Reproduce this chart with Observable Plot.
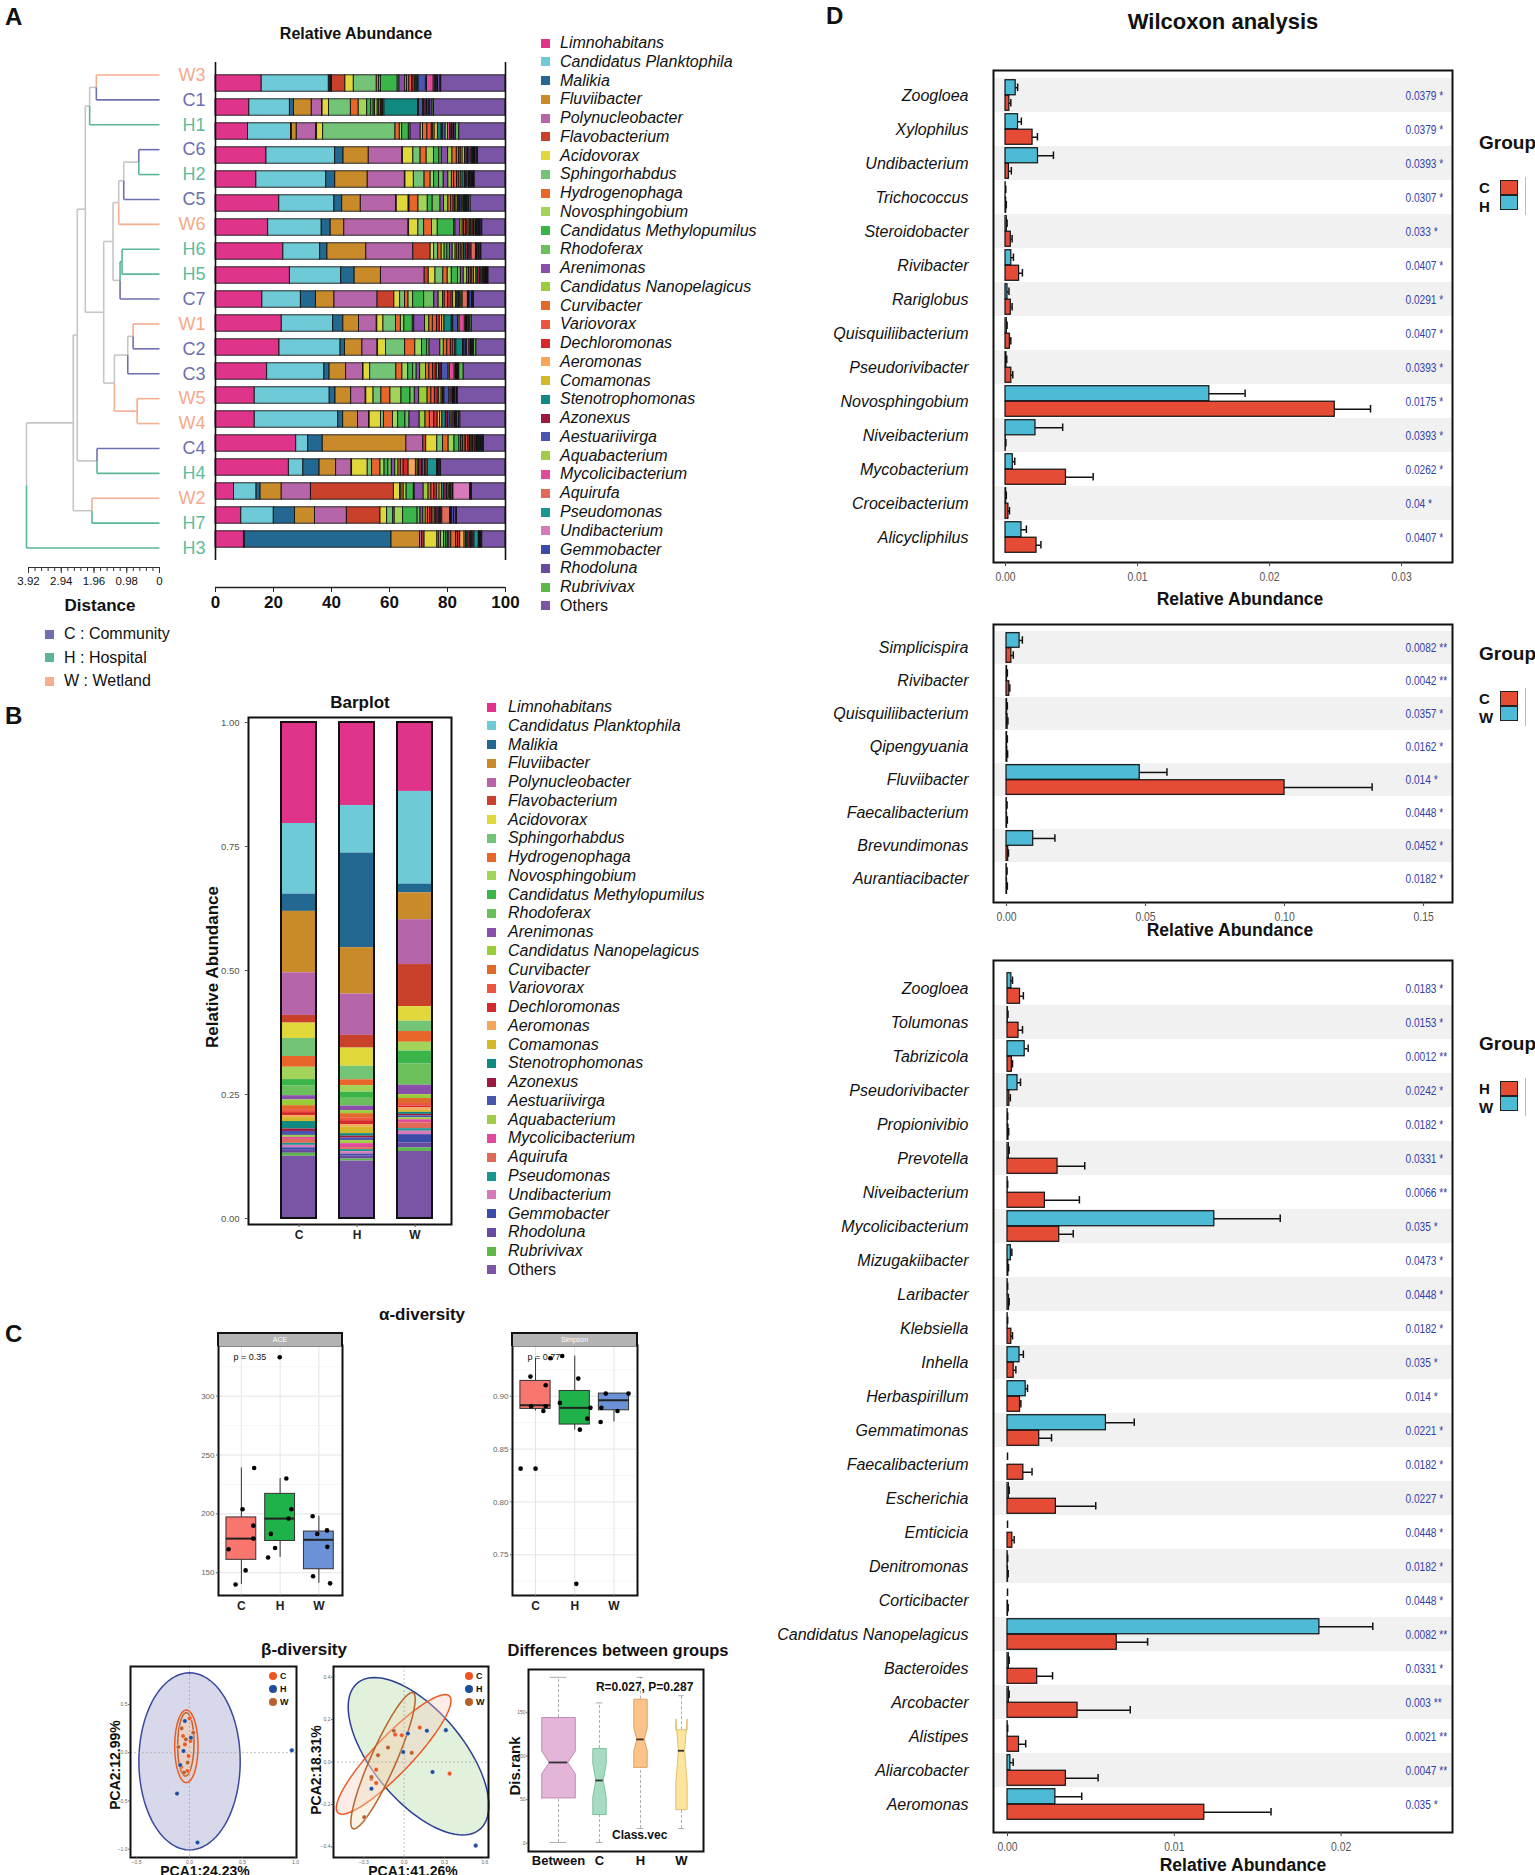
<!DOCTYPE html>
<html><head><meta charset="utf-8">
<script src="https://cdn.jsdelivr.net/npm/d3@7"></script>
<script src="https://cdn.jsdelivr.net/npm/@observablehq/plot@0.6"></script>
<style>
html,body{margin:0;padding:0;background:#fff;}
#page{position:relative;width:1535px;height:1875px;overflow:hidden;background:#fff;}
</style></head>
<body><div id="page"></div>
<script>
// ---------------- DATA ----------------
const samples = ["W3","C1","H1","C6","H2","C5","W6","H6","H5","C7","W1","C2","C3","W5","W4","C4","H4","W2","H7","H3"];
const taxa = ["Limnohabitans","Candidatus Planktophila","Malikia","Fluviibacter","Polynucleobacter","Flavobacterium","Acidovorax","Sphingorhabdus","Hydrogenophaga","Novosphingobium","Candidatus Methylopumilus","Rhodoferax","Arenimonas","Candidatus Nanopelagicus","Curvibacter","Variovorax","Dechloromonas","Aeromonas","Comamonas","Stenotrophomonas","Azonexus","Aestuariivirga","Aquabacterium","Mycolicibacterium","Aquirufa","Pseudomonas","Undibacterium","Gemmobacter","Rhodoluna","Rubrivivax","Others"];
const taxaColors = ["#e0338a","#6ecad6","#236891","#c98b2a","#b565a8","#c9412a","#e0d83a","#73c476","#e8662a","#a3d45a","#3bb54a","#6cc05c","#8a4faa","#9acd3a","#e06a2a","#ee5540","#d42a2a","#f5a65b","#d4b82a","#108a80","#9a1a40","#4a55b0","#a0cc48","#e04a9a","#e06a5a","#1a9590","#d87aba","#3a4ca8","#6a4aa0","#5db84a","#7b55a5"];

const ab_W3 = [15.9,23.1,0.5,0.3,0.3,4.6,2.9,7.9,0.8,0.6,5.8,0.6,2.0,0.6,0.8,1.0,0.5,0.5,0.4,0.4,0.4,2.5,0.4,2.3,0.5,0.3,0.4,0.3,0.8,0.3,22.1];
const ab_C1 = [11.6,13.9,1.4,6.1,3.5,0.2,2.2,7.5,2.7,2.9,1.4,0.8,0.5,0.9,0.5,0.6,0.4,0.3,0.5,11.5,0.3,1.4,0.4,0.5,0.4,0.3,0.4,0.5,0.8,0.5,24.5];
const ab_H1 = [11.2,14.8,0.3,1.7,6.7,0.3,2.1,24.9,1.5,0.8,2.3,0.6,3.5,0.8,1.5,1.5,0.5,0.5,1.2,1.2,0.4,1.0,0.8,0.8,0.4,0.3,0.4,0.3,0.5,1.2,15.9];
const ab_C6 = [17.6,23.7,2.9,8.7,11.6,0.2,3.6,2.5,2.1,2.5,1.9,0.8,2.2,1.5,1.5,0.8,0.6,0.6,0.8,0.6,0.5,0.5,0.4,0.4,0.4,0.3,0.3,0.3,0.5,0.3,9.5];
const ab_H2 = [14.1,24.1,3.1,11.2,12.8,0.2,2.9,3.7,2.1,1.2,1.7,1.6,1.6,1.2,0.8,1.0,0.8,0.5,0.6,0.8,0.5,0.4,0.4,0.3,0.3,0.3,0.3,0.3,0.3,0.3,10.6];
const ab_C5 = [22,19,2.7,6.4,12.2,0.2,4.1,0.3,3.1,3.2,1.7,2.7,1.2,1.5,1.0,0.8,0.5,0.5,0.5,0.5,0.4,0.6,0.4,0.3,0.3,0.3,0.3,0.5,0.3,0.5,12];
const ab_W6 = [18.2,18.5,3.1,4.7,22.2,0.2,3.2,2,2.7,2,5.6,0.5,1.7,0.8,0.5,0.6,0.6,0.4,0.5,0.4,0.8,0.3,0.4,0.3,0.3,0.3,0.3,0.3,0.5,0.3,8];
const ab_H6 = [23.4,12.7,2.5,13.4,16.2,6,1.2,1.4,1.2,1,1,0.8,1,1,0.6,0.6,0.8,0.4,0.5,0.6,0.8,0.4,0.4,0.4,1.5,0.3,0.3,0.5,0.5,0.3,8.3];
const ab_H5 = [25.5,17.6,4.6,9,15,1.4,2.3,2.7,1.5,1.4,2.1,1,1,1.2,0.6,0.6,0.6,0.5,0.8,0.5,0.8,0.4,0.4,0.3,0.3,0.3,0.3,0.3,0.3,0.3,5.8];
const ab_C7 = [16.2,13.3,5.2,6.4,14.9,5.8,2,1.7,1.2,1.6,3.8,3.5,1.5,1.5,0.6,1.2,1.2,0.5,1.0,0.5,0.5,0.5,0.4,0.4,1.8,0.3,0.3,0.8,0.4,0.3,10.9];
const ab_W1 = [22.8,17.7,3.5,5.4,6.1,0.2,2.1,4.3,1.7,1.2,2.9,0.5,3.7,1.5,1.2,1.4,1.0,0.8,0.8,2.5,0.5,1.7,0.5,1.8,0.4,0.3,0.3,0.5,0.4,0.5,11.6];
const ab_C2 = [22,21,1.5,6,5.2,0.2,2.7,6.6,3.5,2.3,1.8,0.8,3.7,1.2,1.2,1.2,0.9,0.5,0.5,2.3,0.5,0.5,0.4,0.8,0.4,0.3,0.3,0.3,0.3,0.8,10];
const ab_C3 = [17.8,19.7,1.8,5.7,5.8,0.2,2.3,9,2.1,2,1.7,1.2,1.2,2,1.2,1.2,1.0,0.5,0.6,0.5,0.5,2.3,0.4,1.7,0.4,0.3,0.3,0.3,0.3,1.5,14.4];
const ab_W5 = [13.5,25.8,2,5.4,5,0.2,2.5,2.7,3.1,3.8,3.1,1.5,1.5,2.9,1.3,1.2,1.0,0.5,0.8,0.5,0.5,1.7,0.4,0.4,0.4,0.3,0.3,0.3,0.5,0.3,16.4];
const ab_W4 = [13.5,28.7,1.7,5.1,3.8,0.2,3.9,1.0,3.1,1.8,2.5,1.4,3.5,2,1.5,1.5,1.2,0.8,0.8,1.2,0.8,0.8,0.4,0.6,0.4,0.3,0.3,0.3,0.6,0.5,15.5];
const ab_C4 = [27.7,4.1,5,28.7,5.8,1,3.8,2,1.9,2,1.7,0.6,0.6,0.6,0.5,0.8,0.5,0.3,0.5,0.3,0.8,0.4,0.3,0.3,0.3,0.3,0.3,0.3,0.4,0.3,7.4];
const ab_H4 = [25.3,5,5.6,5.7,5.3,0.2,5.4,1.5,2.9,1.4,1.3,1.2,1.2,1.1,0.8,1.0,1.7,2.5,0.6,0.5,1.0,0.5,0.5,0.5,0.5,3.2,0.3,0.3,0.5,0.3,22.2];
const ab_W2 = [6.4,7.8,1.4,7.3,10.1,28.7,2.1,0.5,0.8,1.0,2.5,0.3,3.1,1.7,1.0,1.0,1.0,0.8,0.8,0.8,1.0,0.6,0.4,0.4,0.5,0.3,5.8,0.2,0.2,0.2,11.6];
const ab_H7 = [8.9,11.2,7.3,6.9,11,11.6,2.3,2.1,0.5,2.9,5,1.0,1.0,0.8,0.8,0.8,0.6,0.5,0.6,0.4,0.8,0.4,0.4,0.4,2.7,0.3,0.3,0.8,0.7,0.3,16.7];
const ab_H3 = [9.8,0.3,50.6,9.8,0.8,0.8,4.4,0.5,0.8,1.0,0.8,0.5,0.6,0.6,1.7,0.6,0.8,1.5,0.5,0.5,0.8,0.4,0.4,0.4,0.4,1.5,0.3,0.3,0.3,0.3,8];

// hierarchical clustering: [height, left, right]
const tree = [3.98,
  [2.58,
    [2.46,
      [2.22,
        [2.09, [1.89, "W3", "C1"], "H1"],
        [1.67,
          [1.39,
            [1.22, [1.07, [0.62, "C6", "H2"], "C5"], "W6"],
            [1.18, [1.12, "H6", "H5"], "C7"]],
          [1.35,
            [0.95, [0.79, "W1", "C2"], "C3"],
            [0.67, "W5", "W4"]]]],
      [1.87, "C4", "H4"]],
    [2.02, "W2", "H7"]],
  "H3"];
const distMajor = [3.92, 2.94, 1.96, 0.98, 0];
const distMajorLabels = ["3.92", "2.94", "1.96", "0.98", "0"];
const distMinor = [3.92,3.724,3.528,3.332,3.136,2.94,2.744,2.548,2.352,2.156,1.96,1.764,1.568,1.372,1.176,0.98,0.784,0.588,0.392,0.196,0];

// Barplot (B)
const groupsB = ["C","H","W"];
const rel_C = [0.2036,0.1424,0.0348,0.1238,0.0859,0.0155,0.031,0.0364,0.0217,0.0248,0.0132,0.0193,0.0085,0.0116,0.008,0.006,0.006,0.004,0.008,0.015,0.005,0.008,0.004,0.004,0.008,0.004,0.005,0.005,0.006,0.006,0.1255];
const rel_H = [0.1664,0.0952,0.1896,0.0929,0.0828,0.0255,0.0364,0.0271,0.0116,0.0132,0.0124,0.0155,0.0093,0.006,0.008,0.006,0.008,0.005,0.013,0.005,0.004,0.005,0.006,0.008,0.004,0.004,0.005,0.004,0.006,0.004,0.115];
const rel_W = [0.1393,0.1873,0.0178,0.0542,0.0906,0.0851,0.0294,0.0209,0.0217,0.0178,0.0263,0.0426,0.0193,0.0077,0.01,0.005,0.004,0.005,0.004,0.004,0.003,0.004,0.004,0.006,0.012,0.005,0.007,0.017,0.01,0.007,0.1355];

// Alpha diversity (C)
const alphaGroups = ["C","H","W"];
const alphaFill = ["#f8766d","#1fb14a","#6b92d6"];
const ace_lo = [140,163,141], ace_q1 = [161,177,153], ace_med = [179,196,178], ace_q3 = [197,217,185], ace_hi = [239,230,198];
const ace_ptG = ["C","C","C","C","C","C","C","H","H","H","H","H","H","H","W","W","W","W","W","W"];
const ace_ptJ = [-0.33,-0.15,0.03,0.11,0.31,0.31,0.33,-0.31,-0.24,-0.13,-0.01,0.16,0.22,0.29,-0.16,-0.15,-0.04,0.21,0.22,0.29];
const ace_ptV = [170,140,204,152,190,179,239,163,183,171,333,230,196,204,198,147,183,186,172,141];
const sim_lo = [0.886,0.868,0.8757], sim_q1 = [0.888,0.8732,0.8867], sim_med = [0.8915,0.889,0.8962], sim_q3 = [0.9145,0.905,0.9025], sim_hi = [0.936,0.938,0.9025];
const sim_ptG = ["C","C","C","C","C","C","C","C","H","H","H","H","H","H","H","W","W","W","W","W"];
const sim_ptJ = [-0.38,-0.13,-0.11,0.0,0.2,0.26,0.26,0.38,-0.38,-0.32,0.09,0.13,0.04,0.32,0.4,-0.34,-0.32,-0.21,0.09,0.37];
const sim_ptV = [0.8315,0.9186,0.8905,0.8315,0.8861,0.9104,0.8905,0.936,0.8937,0.938,0.9167,0.8684,0.7225,0.8788,0.889,0.8757,0.889,0.9025,0.8861,0.9025];

// Beta diversity PCA
const pcaColors = {C:"#ee5522", H:"#1f4f9c", W:"#b8612a"};
const pcaL_g = ["C","C","C","C","C","C","C","H","H","H","H","H","H","H","W","W","W","W","W","W"];
const pcaL_x = [0.0,-0.061,-0.044,-0.009,-0.079,-0.022,0.009,-0.044,0.013,-0.057,-0.088,-0.118,0.075,0.965,-0.075,-0.105,-0.035,0.035,-0.053,-0.018];
const pcaL_y = [0.355,0.172,0.086,-0.034,-0.148,-0.19,0.121,0.328,0.155,0.017,-0.128,-0.424,-0.931,0.024,0.252,0.059,0.138,0.207,-0.207,-0.103];
const pcaL_ell = [
  {cx:0.0, cy:-0.09, ux:0, uy:0.917, vx:0.478, vy:0, stroke:"#3b4aa0", fill:"#c9cce3", fo:0.75},
  {cx:-0.03, cy:0.066, ux:0, uy:0.376, vx:0.11, vy:0, stroke:"#ee5a24", fill:"#f6c3ad", fo:0.35},
  {cx:-0.035, cy:0.086, ux:0.004, uy:0.328, vx:0.077, vy:0, stroke:"#c0662a", fill:"#f0d0b0", fo:0.3}
];
const pcaR_g = pcaL_g;
const pcaR_x = [0.116,-0.018,-0.208,-0.243,-0.208,0.338,-0.067,0.169,0.31,-0.007,0.028,-0.243,0.211,0.532,-0.077,-0.12,0.056,-0.194,-0.243,-0.296];
const pcaR_y = [0.162,0.126,-0.036,-0.079,-0.099,-0.055,0.129,0.147,0.15,0.047,0.134,-0.126,-0.047,-0.394,0.147,0.068,0.043,0.032,-0.071,-0.26];
const pcaR_ell = [
  {cx:0.107, cy:0.027, ux:-0.237, uy:0.363, vx:0.466, vy:-0.076, stroke:"#2e3f93", fill:"#dcefd6", fo:0.85},
  {cx:-0.078, cy:0.036, ux:0.405, uy:0.279, vx:0.133, vy:-0.0387, stroke:"#ee5a24", fill:"#f7c9bb", fo:0.35},
  {cx:-0.157, cy:0.006, ux:0.22, uy:0.321, vx:0.094, vy:-0.013, stroke:"#b8652c", fill:"#efdcb8", fo:0.35}
];

// ANOSIM differences
const diffGroups = ["Between","C","H","W"];
const diffN = [133,21,21,15];
const diffLo = [1,1,17,17], diffQ1 = [52,33,87,38.6], diffMed = [92.6,72,119,106], diffQ3 = [144,108.6,165,130], diffHi = [190,160.7,190,169];
const diffNotch = [13,19,13,36.5];
const diffFill = ["#e2b5d9","#a8dcc1","#fac38a","#fde59e"];
const diffStroke = ["#c08ab8","#7cc29e","#e0a060","#e0c070"];

// Wilcoxon (D)
const w1_species = ["Zoogloea","Xylophilus","Undibacterium","Trichococcus","Steroidobacter","Rivibacter","Rariglobus","Quisquiliibacterium","Pseudorivibacter","Novosphingobium","Niveibacterium","Mycobacterium","Croceibacterium","Alicycliphilus"];
const w1_red = [0.00029,0.00205,0.00026,0.00005,0.0004,0.00103,0.0004,0.00033,0.00044,0.02494,0.00002,0.00458,0.00022,0.00235];
const w1_redSe = [0.00011,0.00037,0.00018,0.00001,0.0001,0.00025,0.0001,0.00007,0.00011,0.00271,0.00001,0.00206,0.00008,0.00033];
const w1_blue = [0.00077,0.00095,0.00246,0.00001,0.0001,0.00044,0.00015,0.0001,0.00007,0.01544,0.00227,0.00055,0.00005,0.00121];
const w1_blueSe = [0.00015,0.00025,0.00117,0.00001,0.00002,0.00016,0.00011,0.00002,0.00002,0.00271,0.00206,0.00015,0.00001,0.00037];
const w1_p = ["0.0379 *","0.0379 *","0.0393 *","0.0307 *","0.033 *","0.0407 *","0.0291 *","0.0407 *","0.0393 *","0.0175 *","0.0393 *","0.0262 *","0.04 *","0.0407 *"];
const w2_species = ["Simplicispira","Rivibacter","Quisquiliibacterium","Qipengyuania","Fluviibacter","Faecalibacterium","Brevundimonas","Aurantiacibacter"];
const w2_red = [0.00174,0.001,0.0004,0.0003,0.1,0.0002,0.0006,0.0002];
const w2_redSe = [0.0007,0.0002,0.0001,0.0001,0.0315,0.0001,0.0001,0.0001];
const w2_blue = [0.0047,0.0002,0.0002,0.0002,0.0479,0.0001,0.0096,0.0001];
const w2_blueSe = [0.001,0.0001,0.0001,0.0001,0.0098,0.0001,0.0078,0.0001];
const w2_p = ["0.0082 **","0.0042 **","0.0357 *","0.0162 *","0.014 *","0.0448 *","0.0452 *","0.0182 *"];
const w3_species = ["Zoogloea","Tolumonas","Tabrizicola","Pseudorivibacter","Propionivibio","Prevotella","Niveibacterium","Mycolicibacterium","Mizugakiibacter","Laribacter","Klebsiella","Inhella","Herbaspirillum","Gemmatimonas","Faecalibacterium","Escherichia","Emticicia","Denitromonas","Corticibacter","Candidatus Nanopelagicus","Bacteroides","Arcobacter","Alistipes","Aliarcobacter","Aeromonas"];
const w3_red = [0.00075,0.00066,0.00026,0.00011,0.00006,0.003,0.00224,0.0031,0.00005,0.00009,0.00023,0.00037,0.00075,0.0019,0.00095,0.0029,0.00029,0.00003,0.00003,0.00655,0.00178,0.0042,0.00069,0.0035,0.0118];
const w3_redSe = [0.0002,0.00024,0.00004,0.00006,0.00001,0.00163,0.00207,0.00084,0.00001,0.00001,0.00007,0.00013,0.00005,0.00074,0.00052,0.00239,0.00011,0.00001,0.00001,0.00185,0.00092,0.00316,0.0004,0.00193,0.004];
const w3_blue = [0.00023,0.00002,0.00103,0.0006,0.00001,0.00008,0.00001,0.0124,0.0002,0.00001,0.00001,0.00072,0.00109,0.0059,0,0.00008,0,0.00001,0,0.0187,0.00008,0.00008,0.00001,0.00017,0.00287];
const w3_blueSe = [0.00007,0.00001,0.00021,0.00018,0,0.00002,0,0.00395,0.00006,0,0,0.00023,0.00011,0.0017,0,0.00002,0,0,0,0.0032,0.00002,0.00002,0,0.00017,0.00158];
const w3_p = ["0.0183 *","0.0153 *","0.0012 **","0.0242 *","0.0182 *","0.0331 *","0.0066 **","0.035 *","0.0473 *","0.0448 *","0.0182 *","0.035 *","0.014 *","0.0221 *","0.0182 *","0.0227 *","0.0448 *","0.0182 *","0.0448 *","0.0082 **","0.0331 *","0.003 **","0.0021 **","0.0047 **","0.035 *"];

// ---------------- HELPERS ----------------
const FONT = "'Liberation Sans', Arial, Helvetica, sans-serif";
const baseStyle = {fontFamily: FONT, background: "transparent", overflow: "visible"};
const page = document.getElementById("page");
function put(node, x, y) { node.style.position = "absolute"; node.style.left = x + "px"; node.style.top = y + "px"; page.appendChild(node); return node; }
function T(s, x, y, css, anchor) {
  const d = document.createElement("div");
  d.textContent = s;
  const tr = anchor === "c" ? "translate(-50%,-50%)" : anchor === "r" ? "translate(-100%,-50%)" : "translate(0,-50%)";
  d.style.cssText = `position:absolute;left:${x}px;top:${y}px;white-space:nowrap;line-height:1;transform:${tr};font-family:${FONT};color:#111;` + (css || "");
  page.appendChild(d); return d;
}
function R(s, x, y, css) { const d = T(s, x, y, css, "c"); d.style.transform = "translate(-50%,-50%) rotate(-90deg)"; return d; }
function box(x, y, w, h, css) { const d = document.createElement("div"); d.style.cssText = `position:absolute;left:${x}px;top:${y}px;width:${w}px;height:${h}px;box-sizing:border-box;` + css; page.appendChild(d); return d; }
// narrow the glyphs of texts drawn with a given fill (condensed look of the original)
function condense(svg, fill, factor) {
  svg.querySelectorAll(`g[fill="${fill}"] text`).forEach(t => {
    const L = t.getComputedTextLength();
    if (L > 0) { t.setAttribute("textLength", (L * factor).toFixed(2)); t.setAttribute("lengthAdjust", "spacingAndGlyphs"); }
  });
}

const grpBranch = {C: "#6e70b0", H: "#5cb596", W: "#f7ad90"};
const grpLabel = {C: "#6b6fb0", H: "#5fbb9b", W: "#f6a98a"};

// ---------------- PANEL A ----------------
T("A", 5, 17, "font-size:24px;font-weight:bold");
T("Relative Abundance", 356, 34, "font-size:16px;font-weight:bold", "c");

function layoutTree(node) {
  if (typeof node === "string") return {h: 0, y: samples.indexOf(node), groups: new Set([node[0]])};
  const [h, a, b] = node;
  const A = layoutTree(a), B = layoutTree(b);
  return {h, y: (A.y + B.y) / 2, kids: [A, B], groups: new Set([...A.groups, ...B.groups])};
}
const segs = [];
(function walk(n) {
  if (!n.kids) return;
  for (const c of n.kids) {
    const col = c.groups.size === 1 ? grpBranch[[...c.groups][0]] : "#c6c6c6";
    segs.push({x1: n.h, y1: n.y, x2: n.h, y2: c.y, col});
    segs.push({x1: n.h, y1: c.y, x2: c.h, y2: c.y, col});
    walk(c);
  }
})(layoutTree(tree));
segs.sort((a, b) => (a.col === "#c6c6c6" ? 0 : 1) - (b.col === "#c6c6c6" ? 0 : 1));

put(Plot.plot({
  width: 215, height: 565, margin: 0,
  x: {domain: [3.92, 0], range: [28, 159], axis: null, label: null},
  y: {domain: [-0.5, 19.5], range: [62, 560], axis: null, label: null},
  color: {type: "identity"},
  style: baseStyle,
  marks: [
    Plot.link(segs, {x1: "x1", y1: "y1", x2: "x2", y2: "y2", stroke: "col", strokeWidth: 1.6}),
    Plot.text(samples, {x: 0, y: (d, i) => i, text: d => d, textAnchor: "end", dx: 46, fill: d => grpLabel[d[0]], fontSize: 18})
  ]
}), 0, 0);

put(Plot.plot({
  width: 215, height: 41, marginLeft: 28, marginRight: 56, marginTop: 10, marginBottom: 30,
  x: {domain: [3.92, 0], label: null}, y: {domain: [0, 1], axis: null, label: null},
  style: baseStyle,
  marks: [
    Plot.ruleY([0], {stroke: "#333", strokeWidth: 1.2}),
    Plot.axisX({ticks: distMinor, tickSize: 4, tickFormat: () => "", stroke: "#333", label: null}),
    Plot.axisX({ticks: distMajor, tickSize: 6, tickPadding: 3, tickFormat: (d, i) => distMajorLabels[i], fontSize: 11.5, stroke: "#333", fill: "#111", label: null})
  ]
}), 0, 556);
T("Distance", 100, 605, "font-size:17px;font-weight:bold", "c");

const abundBySample = {W3:ab_W3,C1:ab_C1,H1:ab_H1,C6:ab_C6,H2:ab_H2,C5:ab_C5,W6:ab_W6,H6:ab_H6,H5:ab_H5,C7:ab_C7,W1:ab_W1,C2:ab_C2,C3:ab_C3,W5:ab_W5,W4:ab_W4,C4:ab_C4,H4:ab_H4,W2:ab_W2,H7:ab_H7,H3:ab_H3};
const tableA = samples.flatMap(s => abundBySample[s].map((v, j) => ({sample: s, taxon: taxa[j], value: v})));
put(Plot.plot({
  width: 294, height: 502, margin: 2,
  x: {domain: [0, 1], axis: null, label: null},
  y: {domain: samples, padding: 0, axis: null, label: null},
  color: {domain: taxa, range: taxaColors},
  style: baseStyle,
  marks: [
    Plot.barX(tableA, Plot.stackX({y: "sample", x: "value", fill: "taxon", order: taxa, offset: "normalize", stroke: "#111", strokeWidth: 0.9, insetTop: 3.8, insetBottom: 3.8})),
    Plot.ruleX([0, 1], {stroke: "#111", strokeWidth: 1.6})
  ]
}), 213, 60);
put(Plot.plot({
  width: 310, height: 41, marginLeft: 10, marginRight: 10, marginTop: 10, marginBottom: 30,
  x: {domain: [0, 1], label: null}, y: {domain: [0, 1], axis: null, label: null},
  style: baseStyle,
  marks: [
    Plot.ruleY([0], {stroke: "#222", strokeWidth: 1.5}),
    Plot.axisX({ticks: [0, 0.2, 0.4, 0.6, 0.8, 1], tickFormat: d => String(Math.round(d * 100)), tickSize: 5, tickPadding: 3, fontSize: 17, fontWeight: "bold", stroke: "#222", fill: "#111", label: null})
  ]
}), 205, 576);

taxa.forEach((t, i) => {
  const y = 43 + i * 18.76;
  box(541, y - 4.5, 9, 9, `background:${taxaColors[i]}`);
  T(t, 560, y, "font-size:16px;" + (t === "Others" ? "" : "font-style:italic"));
});
[["C", "C : Community"], ["H", "H : Hospital"], ["W", "W : Wetland"]].forEach(([g, lab], i) => {
  const y = 634 + i * 23.5;
  box(45, y - 4.5, 9, 9, `background:${grpBranch[g]}`);
  T(lab, 64, y, "font-size:16px");
});

// ---------------- PANEL B ----------------
T("B", 5, 716, "font-size:24px;font-weight:bold");
T("Barplot", 360, 702, "font-size:17px;font-weight:bold", "c");
const relB = {C: rel_C, H: rel_H, W: rel_W};
const tableB = groupsB.flatMap(g => relB[g].map((v, j) => ({group: g, taxon: taxa[j], value: v})));
const taxaRev = taxa.slice().reverse();
put(Plot.plot({
  width: 270, height: 567, marginLeft: 58, marginRight: 9, marginTop: 20, marginBottom: 40,
  x: {domain: groupsB, range: [66.5, 266.25], padding: 0.4, label: null},
  y: {domain: [-0.0121, 1.0101], label: null},
  color: {domain: taxa, range: taxaColors},
  style: baseStyle,
  marks: [
    Plot.barY(tableB, Plot.stackY({x: "group", y: "value", fill: "taxon", order: taxaRev, offset: "normalize"})),
    Plot.barY(groupsB, {x: d => d, y1: 0, y2: 1, fill: "none", stroke: "#111", strokeWidth: 2}),
    Plot.frame({stroke: "#111", strokeWidth: 2}),
    Plot.axisY({ticks: [0, 0.25, 0.5, 0.75, 1], tickFormat: d3.format(".2f"), tickSize: 3, fontSize: 9.5, fill: "#555", stroke: "#555", label: null}),
    Plot.axisX({tickSize: 3, tickPadding: 3, fontSize: 12, fontWeight: "bold", fill: "#222", stroke: "#555", label: null})
  ]
}), 190, 697);
R("Relative Abundance", 212, 967, "font-size:17px;font-weight:bold");
taxa.forEach((t, i) => {
  const y = 707 + i * 18.76;
  box(487, y - 4.5, 9, 9, `background:${taxaColors[i]}`);
  T(t, 508, y, "font-size:16px;" + (t === "Others" ? "" : "font-style:italic"));
});

// ---------------- PANEL C ----------------
T("C", 5, 1334, "font-size:24px;font-weight:bold");
T("α-diversity", 422, 1314, "font-size:17px;font-weight:bold", "c");

function alphaPlot(cfg) {
  const stats = alphaGroups.map((g, i) => ({i, lo: cfg.lo[i], q1: cfg.q1[i], med: cfg.med[i], q3: cfg.q3[i], hi: cfg.hi[i], fill: alphaFill[i]}));
  const pts = cfg.pg.map((g, k) => ({px: alphaGroups.indexOf(g) + cfg.pj[k], pv: cfg.pv[k]}));
  const hw = 0.385;
  return Plot.plot({
    width: 160, height: 297, marginLeft: 28, marginRight: cfg.mr, marginTop: 15, marginBottom: 32,
    x: {domain: cfg.xd, label: null}, y: {domain: cfg.yd, label: null},
    color: {type: "identity"},
    style: baseStyle,
    marks: [
      Plot.ruleY(cfg.minor, {stroke: "#f2f2f2", strokeWidth: 0.7}),
      Plot.ruleY(cfg.major, {stroke: "#e4e4e4", strokeWidth: 1}),
      Plot.ruleX([0, 1, 2], {stroke: "#e4e4e4", strokeWidth: 1}),
      Plot.ruleX(stats, {x: "i", y1: "lo", y2: "q1", stroke: "#333", strokeWidth: 1}),
      Plot.ruleX(stats, {x: "i", y1: "q3", y2: "hi", stroke: "#333", strokeWidth: 1}),
      Plot.rect(stats, {x1: d => d.i - hw, x2: d => d.i + hw, y1: "q1", y2: "q3", fill: "fill", stroke: "#333", strokeWidth: 1}),
      Plot.ruleY(stats, {y: "med", x1: d => d.i - hw, x2: d => d.i + hw, stroke: "#222", strokeWidth: 2}),
      Plot.dot(pts, {x: "px", y: "pv", r: 2.3, fill: "#000"}),
      Plot.text([cfg.p], {frameAnchor: "top-left", textAnchor: "start", dx: 15, dy: 8, fontSize: 9, fill: "#111", text: d => d}),
      Plot.frame({stroke: "#111", strokeWidth: 2}),
      Plot.axisY({ticks: cfg.major, tickFormat: cfg.fmt, tickSize: 2, tickPadding: 2, fontSize: 8, fill: "#666", stroke: "#666", label: null}),
      Plot.axisX({ticks: [0, 1, 2], tickFormat: i => alphaGroups[i], tickSize: 2, tickPadding: 4, fontSize: 12, fontWeight: "bold", fill: "#222", stroke: "#666", label: null})
    ]
  });
}
put(alphaPlot({lo: ace_lo, q1: ace_q1, med: ace_med, q3: ace_q3, hi: ace_hi, pg: ace_ptG, pj: ace_ptJ, pv: ace_ptV,
  xd: [-0.59, 2.61], yd: [130.7, 343], major: [150, 200, 250, 300], minor: [175, 225, 275, 325], fmt: d => String(d), p: "p = 0.35", mr: 8}), 190, 1330);
put(alphaPlot({lo: sim_lo, q1: sim_q1, med: sim_med, q3: sim_q3, hi: sim_hi, pg: sim_ptG, pj: sim_ptJ, pv: sim_ptV,
  xd: [-0.587, 2.6], yd: [0.7115, 0.948], major: [0.75, 0.8, 0.85, 0.9], minor: [0.725, 0.775, 0.825, 0.875, 0.925], fmt: d3.format(".2f"), p: "p = 0.77", mr: 7}), 484, 1330);
box(217, 1332, 126, 14, "background:#b3b3b3;border:2px solid #111;border-bottom:0;");
T("ACE", 280, 1339, "font-size:7px;color:#fff", "c");
box(511, 1332, 127, 14, "background:#b3b3b3;border:2px solid #111;border-bottom:0;");
T("Simpson", 574.5, 1339, "font-size:7px;color:#fff", "c");

// Beta diversity
T("β-diversity", 304, 1649, "font-size:17px;font-weight:bold", "c");
T("Differences between groups", 618, 1650, "font-size:16.5px;font-weight:bold", "c");

function ellipsePts(e) {
  const pts = [];
  for (let k = 0; k <= 90; k++) {
    const t = k / 90 * 2 * Math.PI;
    pts.push({ex: e.cx + e.ux * Math.cos(t) + e.vx * Math.sin(t), ey: e.cy + e.uy * Math.cos(t) + e.vy * Math.sin(t)});
  }
  return pts;
}
function pcaPlot(cfg) {
  const pts = cfg.g.map((g, i) => ({px: cfg.x[i], py: cfg.y[i], col: pcaColors[g]}));
  return Plot.plot({
    width: cfg.w, height: cfg.h, marginLeft: cfg.ml, marginRight: cfg.mr, marginTop: cfg.mt, marginBottom: cfg.mb,
    x: {domain: cfg.xd, label: null}, y: {domain: cfg.yd, label: null},
    color: {type: "identity"},
    style: baseStyle,
    marks: [
      ...cfg.ell.map(e => Plot.line(ellipsePts(e), {x: "ex", y: "ey", fill: e.fill, fillOpacity: e.fo, stroke: e.stroke, strokeWidth: 1.5})),
      Plot.ruleX([0], {stroke: "#999", strokeDasharray: "2,2", strokeWidth: 0.6}),
      Plot.ruleY([0], {stroke: "#999", strokeDasharray: "2,2", strokeWidth: 0.6}),
      Plot.dot(pts, {x: "px", y: "py", r: 2.3, fill: "col", stroke: "#fff", strokeWidth: 0.4}),
      Plot.frame({stroke: "#111", strokeWidth: 2}),
      Plot.axisX({ticks: cfg.xt, tickSize: 2, tickPadding: 1, fontSize: 5, fill: "#666", stroke: "#666", label: null}),
      Plot.axisY({ticks: cfg.yt, tickSize: 2, tickPadding: 1, fontSize: 5, fill: "#666", stroke: "#666", label: null})
    ]
  });
}
put(pcaPlot({g: pcaL_g, x: pcaL_x, y: pcaL_y, ell: pcaL_ell, w: 194, h: 208, ml: 20, mr: 8, mt: 8, mb: 9,
  xd: [-0.557, 1.009], yd: [-1.086, 0.893], xt: [-0.5, 0, 0.5, 1], yt: [-1, -0.5, 0, 0.5]}), 110, 1658);
put(pcaPlot({g: pcaR_g, x: pcaR_x, y: pcaR_y, ell: pcaR_ell, w: 175, h: 207, ml: 11, mr: 9, mt: 6, mb: 10,
  xd: [-0.525, 0.627], yd: [-0.45, 0.45], xt: [-0.3, 0, 0.3, 0.6], yt: [-0.4, -0.2, 0, 0.2, 0.4]}), 322, 1660);
function pcaLegend(x, y) {
  ["C", "H", "W"].forEach((g, i) => {
    box(x - 4, y + i * 13 - 4, 8, 8, `background:${pcaColors[g]};border-radius:50%;`);
    T(g, x + 7, y + i * 13, "font-size:9px;font-weight:bold");
  });
}
pcaLegend(273, 1676);
pcaLegend(469, 1676);
R("PCA2:12.99%", 115, 1765, "font-size:14px;font-weight:bold");
T("PCA1:24.23%", 205, 1871, "font-size:14px;font-weight:bold", "c");
R("PCA2:18.31%", 316, 1770, "font-size:14px;font-weight:bold");
T("PCA1:41.26%", 413, 1871, "font-size:14px;font-weight:bold", "c");

// Differences between groups (ANOSIM)
const diffMarks = [];
diffGroups.forEach((g, i) => {
  const hw = 0.0355 * Math.sqrt(diffN[i]), nw = hw * 0.55;
  const q1 = diffQ1[i], q3 = diffQ3[i], m = diffMed[i], nl = m - diffNotch[i], nh = m + diffNotch[i];
  const poly = [[i - hw, q1], [i - hw, nl], [i - nw, m], [i - hw, nh], [i - hw, q3], [i + hw, q3], [i + hw, nh], [i + nw, m], [i + hw, nl], [i + hw, q1], [i - hw, q1]];
  diffMarks.push(Plot.ruleX([[i, diffLo[i], q1], [i, q3, diffHi[i]]], {x: d => d[0], y1: d => d[1], y2: d => d[2], stroke: "#999", strokeDasharray: "3,2", strokeWidth: 0.8}));
  diffMarks.push(Plot.ruleY([diffLo[i], diffHi[i]], {y: d => d, x1: i - hw * 0.5, x2: i + hw * 0.5, stroke: "#999", strokeWidth: 0.8}));
  diffMarks.push(Plot.line(poly, {x: d => d[0], y: d => d[1], fill: diffFill[i], stroke: diffStroke[i], strokeWidth: 1}));
  diffMarks.push(Plot.ruleY([m], {y: d => d, x1: i - nw, x2: i + nw, stroke: "#333", strokeWidth: 1.8}));
});
put(Plot.plot({
  width: 218, height: 214, marginLeft: 38, marginRight: 5, marginTop: 10, marginBottom: 22,
  x: {domain: [-0.732, 3.537], label: null}, y: {domain: [-9.3, 199], label: null},
  style: baseStyle,
  marks: [
    ...diffMarks,
    Plot.text(["R=0.027, P=0.287"], {x: 2.1, frameAnchor: "top", dy: 13, fontWeight: "bold", fontSize: 12, fill: "#111"}),
    Plot.text(["Class.vec"], {x: 1.98, frameAnchor: "bottom", dy: -13, fontWeight: "bold", fontSize: 12, fill: "#111"}),
    Plot.frame({stroke: "#111", strokeWidth: 2}),
    Plot.axisY({ticks: [0, 50, 100, 150], tickSize: 2, tickPadding: 1, fontSize: 5, fill: "#666", stroke: "#666", label: null}),
    Plot.axisX({ticks: [0, 1, 2, 3], tickFormat: i => diffGroups[i], tickSize: 0, tickPadding: 4, fontSize: 13, fontWeight: "bold", fill: "#111", label: null})
  ]
}), 490, 1659);
R("Dis.rank", 514, 1766, "font-size:15px;font-weight:bold");

// ---------------- PANEL D ----------------
T("D", 826, 16, "font-size:24px;font-weight:bold");
T("Wilcoxon analysis", 1223, 22, "font-size:22px;font-weight:bold", "c");
const RED = "#e64b35", BLUE = "#4dbbd5", PCOL = "#3340a8", TICKCOL = "#555555";
function wilcoxPlot(cfg) {
  const n = cfg.species.length;
  const rows = cfg.species.map((s, i) => ({s, red: cfg.red[i], rse: cfg.redSe[i], blue: cfg.blue[i], bse: cfg.blueSe[i], p: cfg.p[i], shade: (n - 1 - i) % 2 === 1}));
  const mt = 10, mb = cfg.mb, h = mt + cfg.frameH + mb;
  const bw = (cfg.frameH - 10) / n;
  const capL = 4;
  return Plot.plot({
    width: 755, height: h, marginLeft: 213, marginRight: 83, marginTop: mt, marginBottom: mb,
    x: {domain: cfg.xd, label: null},
    y: {domain: cfg.species, range: [mt + 5, mt + cfg.frameH - 5], padding: 0, axis: null, label: null},
    style: baseStyle,
    marks: [
      Plot.barX(rows.filter(r => r.shade), {y: "s", x1: cfg.xd[0], x2: cfg.xd[1], fill: "#f1f1f1"}),
      Plot.barX(rows, {y: "s", x1: 0, x2: "blue", fill: BLUE, stroke: "#111", strokeWidth: 1.2, insetTop: bw * 0.05, insetBottom: bw * 0.5}),
      Plot.barX(rows, {y: "s", x1: 0, x2: "red", fill: RED, stroke: "#111", strokeWidth: 1.2, insetTop: bw * 0.5, insetBottom: bw * 0.05}),
      Plot.ruleY(rows, {y: "s", x1: "blue", x2: r => r.blue + r.bse, dy: -bw * 0.225, stroke: "#111", strokeWidth: 1.5}),
      Plot.ruleY(rows, {y: "s", x1: "red", x2: r => r.red + r.rse, dy: bw * 0.225, stroke: "#111", strokeWidth: 1.5}),
      Plot.tickX(rows, {y: "s", x: r => r.blue + r.bse, insetTop: bw * 0.275 - capL, insetBottom: bw * 0.725 - capL, stroke: "#111", strokeWidth: 1.5}),
      Plot.tickX(rows, {y: "s", x: r => r.red + r.rse, insetTop: bw * 0.725 - capL, insetBottom: bw * 0.275 - capL, stroke: "#111", strokeWidth: 1.5}),
      Plot.text(rows, {y: "s", text: "s", frameAnchor: "left", textAnchor: "end", dx: -25, fontStyle: "italic", fontSize: 16, fill: "#111"}),
      Plot.text(rows, {y: "s", text: "p", frameAnchor: "right", textAnchor: "start", dx: -47, fontSize: 13, fill: PCOL}),
      Plot.frame({stroke: "#111", strokeWidth: 2}),
      Plot.axisX({ticks: cfg.xt, tickFormat: (d, i) => cfg.xl[i], tickSize: 4, tickPadding: 5, fontSize: 13, fill: TICKCOL, stroke: "#444", label: null})
    ]
  });
}
const wsvg1 = put(wilcoxPlot({species: w1_species, red: w1_red, redSe: w1_redSe, blue: w1_blue, blueSe: w1_blueSe, p: w1_p,
  frameH: 492, mb: 50, xd: [-0.00091, 0.03386], xt: [0, 0.01, 0.02, 0.03], xl: ["0.00", "0.01", "0.02", "0.03"]}), 780, 60);
const wsvg2 = put(wilcoxPlot({species: w2_species, red: w2_red, redSe: w2_redSe, blue: w2_blue, blueSe: w2_blueSe, p: w2_p,
  frameH: 278, mb: 40, xd: [-0.00468, 0.1604], xt: [0, 0.05, 0.1, 0.15], xl: ["0.00", "0.05", "0.10", "0.15"]}), 780, 614);
const wsvg3 = put(wilcoxPlot({species: w3_species, red: w3_red, redSe: w3_redSe, blue: w3_blue, blueSe: w3_blueSe, p: w3_p,
  frameH: 872, mb: 43, xd: [-0.00084, 0.02668], xt: [0, 0.01, 0.02], xl: ["0.00", "0.01", "0.02"]}), 780, 950);
[wsvg1, wsvg2, wsvg3].forEach(s => { condense(s, PCOL, 0.78); condense(s, TICKCOL, 0.8); });
T("Relative Abundance", 1240, 600, "font-size:17.5px;font-weight:bold", "c");
T("Relative Abundance", 1230, 931, "font-size:17.5px;font-weight:bold", "c");
T("Relative Abundance", 1243, 1866, "font-size:17.5px;font-weight:bold", "c");
function groupLegend(y0, a, b) {
  T("Group", 1479, y0, "font-size:19px;font-weight:bold");
  box(1500, y0 + 38, 18, 15, `background:${RED};border:1px solid #222;`);
  box(1500, y0 + 53, 18, 15, `background:${BLUE};border:1px solid #222;`);
  T(a, 1479, y0 + 45, "font-size:15px;font-weight:bold");
  T(b, 1479, y0 + 64, "font-size:15px;font-weight:bold");
  box(1525, y0 + 35, 1, 38, "background:#bbb;");
}
groupLegend(142, "C", "H");
groupLegend(653, "C", "W");
groupLegend(1043, "H", "W");
</script>
</body></html>
